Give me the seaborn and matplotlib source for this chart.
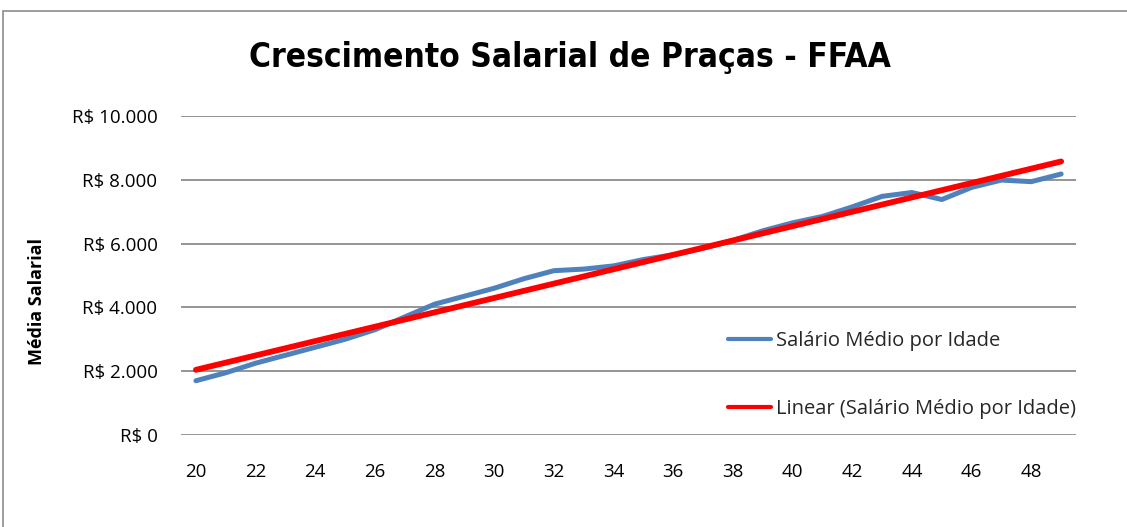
import numpy as np
import pandas as pd
import matplotlib
matplotlib.use('Agg')
import matplotlib.pyplot as plt
import seaborn as sns
from matplotlib.patches import Rectangle

# Datos
idades = list(range(20, 50))
salario_medio = [1700, 1950, 2250, 2500, 2750, 3000, 3300, 3700, 4100, 4350,
                 4600, 4900, 5150, 5200, 5300, 5500, 5650, 5850, 6100, 6400,
                 6650, 6850, 7150, 7480, 7600, 7380, 7760, 7990, 7940, 8180]
y_ticks = [0, 2000, 4000, 6000, 8000, 10000]
y_labels = ['R$ 0', 'R$ 2.000', 'R$ 4.000', 'R$ 6.000', 'R$ 8.000', 'R$ 10.000']
x_ticks = list(range(20, 50, 2))

df = pd.DataFrame({'Idade': idades, 'Salario': salario_medio})
# Linha de tendencia linear (como no Excel)
coef = np.polyfit(df['Idade'], df['Salario'], 1)
df['Linear'] = np.polyval(coef, df['Idade'])

sns.set_style('white')
plt.rcParams['font.family'] = ['Open Sans', 'DejaVu Sans']

fig = plt.figure(figsize=(11.27, 5.27), dpi=100)
ax = fig.add_axes([0.1606, 0.1746, 0.7942, 0.6054])

# borda do grafico
fig.patches.append(Rectangle((0.003, -0.05), 1.2, 1.03, transform=fig.transFigure,
                             fill=False, edgecolor='#8c8c8c', linewidth=1.2))

sns.lineplot(data=df, x='Idade', y='Salario', ax=ax, color='#4F81BD', linewidth=3.6,
             label='Salário Médio por Idade', solid_capstyle='round')
sns.lineplot(data=df, x='Idade', y='Linear', ax=ax, color='#FF0000', linewidth=4.2,
             label='Linear (Salário Médio por Idade)', solid_capstyle='round')

ax.set_xlim(19.5, 49.5)
ax.set_ylim(0, 10000)
ax.set_yticks(y_ticks)
ax.set_yticklabels(y_labels, fontsize=13.5, color='black')
ax.set_xticks(x_ticks)
ax.set_xticklabels([str(x) for x in x_ticks], fontsize=13.5, color='black')
ax.tick_params(axis='x', pad=20, length=0)
ax.tick_params(axis='y', pad=17, length=0)
ax.yaxis.grid(True, color='#8c8c8c', linewidth=1.3)
for s in ['top', 'right', 'left', 'bottom']:
    ax.spines[s].set_visible(False)
ax.set_xlabel('')
ax.set_ylabel('Média Salarial', fontsize=13, fontweight='bold', color='black')
ax.yaxis.set_label_coords(-0.151, 0.417)

fig.text(0.506, 0.89, 'Crescimento Salarial de Praças - FFAA', ha='center', va='center',
         fontsize=24, fontweight='bold', fontstretch='condensed', family='DejaVu Sans',
         color='black')

leg = ax.legend(loc='upper left', bbox_to_anchor=(0.591, 0.382), frameon=False,
                fontsize=14.5, labelspacing=2.35, handlelength=2.15, handletextpad=0.25)
for line in leg.get_lines():
    line.set_linewidth(3)

fig.savefig('out.png', dpi=100)
